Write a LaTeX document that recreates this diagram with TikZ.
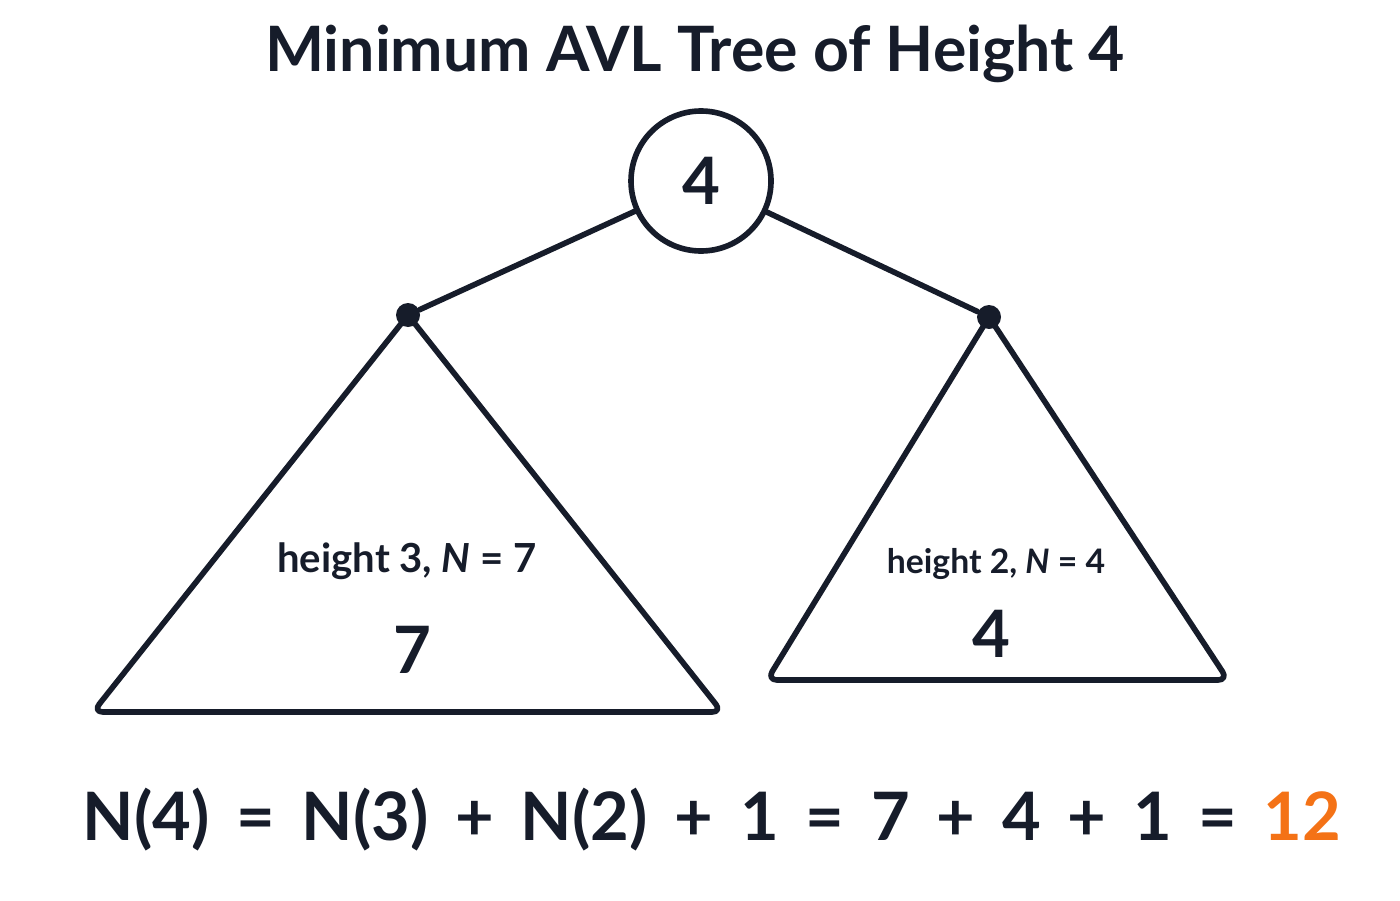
\documentclass[tikz,border=0pt]{standalone}
\usepackage{fontspec}
\setmainfont{Lato}
\newfontfamily\formulafont[WordSpace=1.65]{Lato}
\usepackage{tikz}
\definecolor{ink}{HTML}{161C2A}
\definecolor{accent}{HTML}{F47216}
\tikzset{
	edge/.style={draw=ink,line width=1.6pt,line cap=round},
	subtree/.style={draw=ink,line width=1.6pt,line join=round,rounded corners=1mm},
	dot/.style={circle,fill=ink,inner sep=0pt,minimum size=2.4mm},
	rootnode/.style={circle,draw=ink,line width=1.6pt,inner sep=0pt,minimum size=14mm,
		font=\fontsize{18.6}{20}\selectfont\bfseries,text=ink},
	label/.style={anchor=base,text=ink}
}

\begin{document}
\begin{tikzpicture}[x=0.1mm,y=-0.1mm]
			\useasboundingbox[fill=white] (0,0) rectangle (1400,900);
			\node[label,font=\fontsize{17.8}{20}\selectfont\bfseries] (title) at (695,72) {Minimum AVL Tree of Height 4};
			\node[rootnode] (root) at (701,181) {4};
			\node[dot] (lsub) at (408,315) {};
			\node[dot] (rsub) at (989,317) {};
			\draw[edge] (root) -- (lsub);
			\draw[edge] (root) -- (rsub);
			\draw[subtree] (lsub.center) -- (93,712) -- (722,712) -- cycle;
			\draw[subtree] (rsub.center) -- (767,680) -- (1228,680) -- cycle;
			\node[label,font=\fontsize{11.4}{14}\selectfont\bfseries] (lnote) at (407,572) {height 3, \textit{N} = 7};
			\node[label,font=\fontsize{18.6}{20}\selectfont\bfseries] (lsize) at (412,673) {7};
			\node[label,font=\fontsize{9.6}{12}\selectfont\bfseries] (rnote) at (996,573) {height 2, \textit{N} = 4};
			\node[label,font=\fontsize{18.6}{20}\selectfont\bfseries] (rsize) at (991,657) {4};
			\node[label,font=\formulafont\fontsize{19}{22}\selectfont\bfseries] (formula) at (712,840)
				{N(4) = N(3) + N(2) + 1 = 7 + 4 + 1 = \textcolor{accent}{12}};
		\end{tikzpicture}
\end{document}
